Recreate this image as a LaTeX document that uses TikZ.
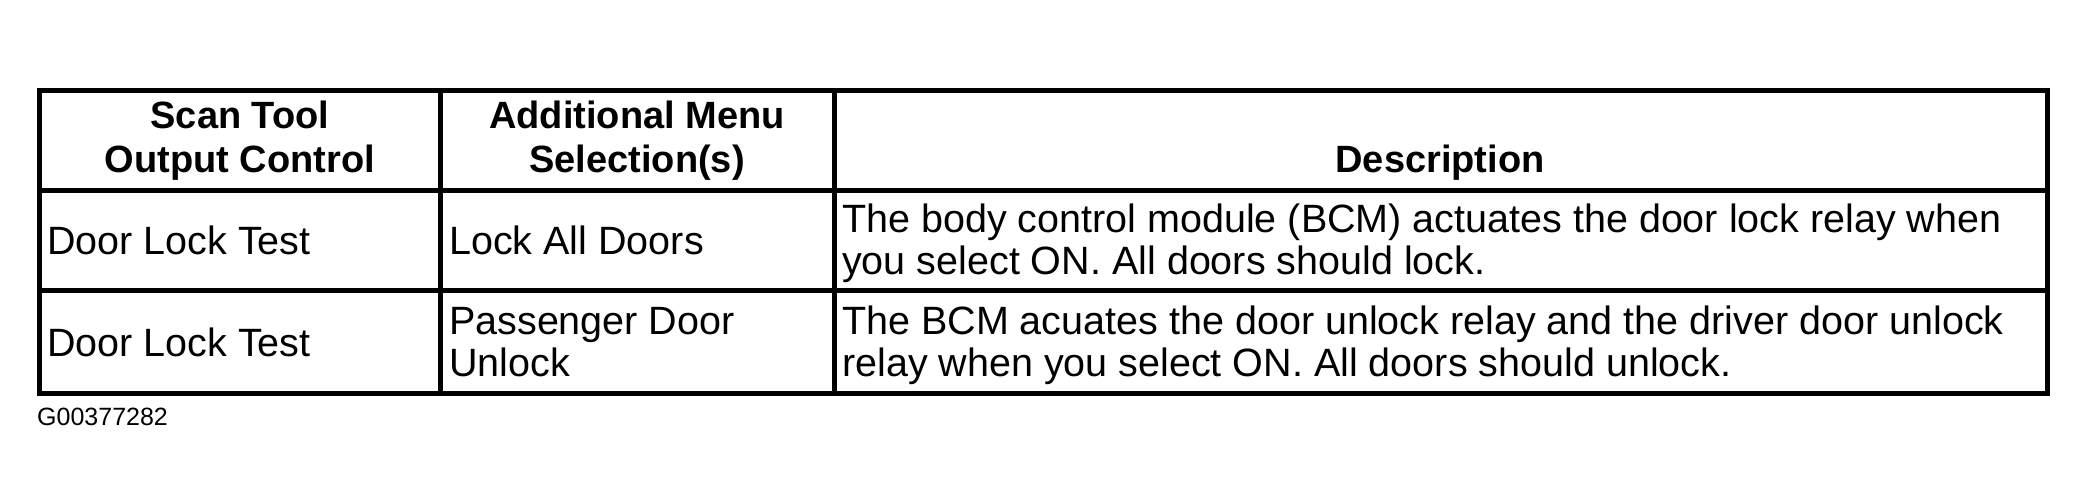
\documentclass[tikz,border=0pt]{standalone}
\usepackage{fontspec}
\setmainfont{Liberation Sans}
\begin{document}
\begin{tikzpicture}[x=1pt,y=-1pt,
  grid/.style={line width=5pt,line cap=rect},
  cell/.style={inner sep=0pt,anchor=base west,align=left,font=\fontsize{39.5}{42}\selectfont},
  head/.style={inner sep=0pt,anchor=base,align=center,font=\fontsize{38}{44}\selectfont\bfseries},
  foot/.style={inner sep=0pt,anchor=base west,font=\fontsize{25}{28}\selectfont}]
\useasboundingbox (0,0) rectangle (2088,500);
% table frame and rules
\draw[grid] (39,90.5) rectangle (2047,393);
\draw[grid] (39,190.5) -- (2047,190.5);
\draw[grid] (39,290) -- (2047,290);
\draw[grid] (440.5,90.5) -- (440.5,393);
\draw[grid] (834.5,90.5) -- (834.5,393);
% header (base anchor = last line baseline)
\node[head] (h1) at (240,172) {Scan Tool\\Output Control};
\node[head] (h2) at (637,172) {Additional Menu\\Selection(s)};
\node[head] (h3) at (1440,172) {Description};
% row 1
\node[cell] (r1a) at (47,254) {Door Lock Test};
\node[cell] (r1b) at (449,254) {Lock All Doors};
\node[cell] (r1c) at (842,274) {The body control module (BCM) actuates the door lock relay when\\you select ON. All doors should lock.};
% row 2
\node[cell] (r2a) at (47,356) {Door Lock Test};
\node[cell] (r2b) at (449,376) {Passenger Door\\Unlock};
\node[cell] (r2c) at (842,376) {The BCM acuates the door unlock relay and the driver door unlock\\relay when you select ON. All doors should unlock.};
% figure id
\node[foot] (id) at (37,425) {G00377282};
\end{tikzpicture}
\end{document}
